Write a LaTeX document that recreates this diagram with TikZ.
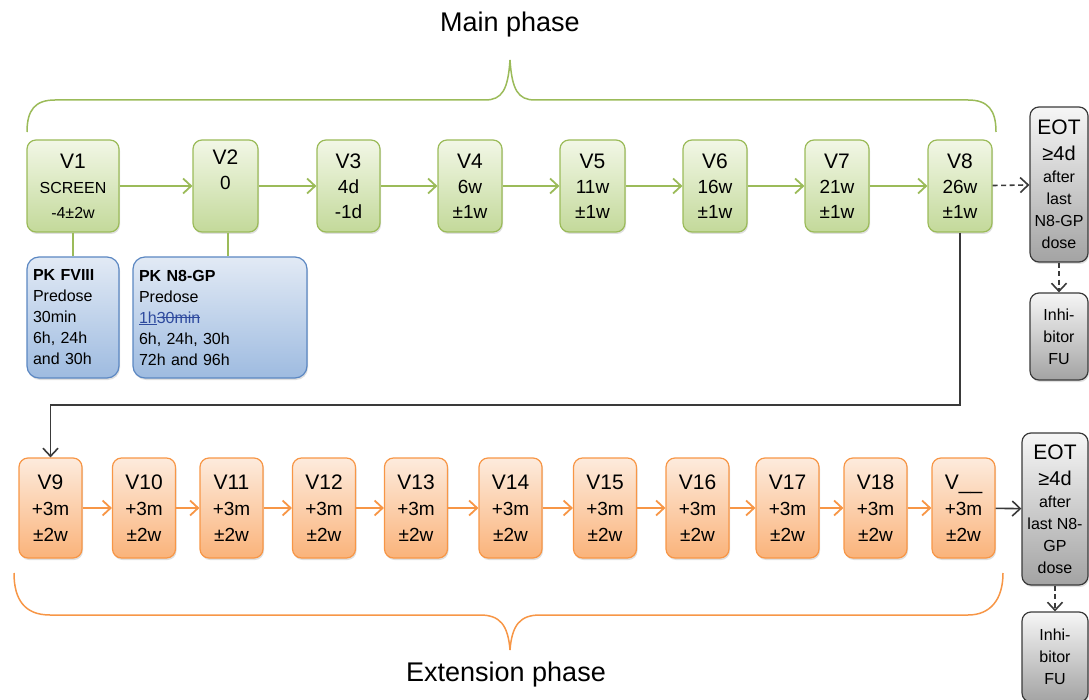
\documentclass[tikz,border=0pt]{standalone}
\usepackage{fontspec}
\setmainfont{Liberation Sans}
\usetikzlibrary{arrows.meta,shadows}

\definecolor{grline}{HTML}{9BBB59}
\definecolor{grtop}{HTML}{F2F7E6}
\definecolor{grbot}{HTML}{C3D99A}
\definecolor{orline}{HTML}{F79646}
\definecolor{ortop}{HTML}{FDEBDD}
\definecolor{orbot}{HTML}{FAB37A}
\definecolor{buline}{HTML}{5B87C2}
\definecolor{butop}{HTML}{E2EAF5}
\definecolor{bubot}{HTML}{9EBBE0}
\definecolor{gyline}{HTML}{3A3A3A}
\definecolor{gytop}{HTML}{F6F6F6}
\definecolor{gybot}{HTML}{A3A3A3}
\definecolor{trackblue}{HTML}{2E4A9E}

\newcommand{\vname}[1]{{\fontsize{21}{25}\selectfont #1}}
\newcommand{\strike}[1]{\setbox0\hbox{#1}\rlap{\rule[0.3em]{\wd0}{0.8pt}}\box0}

\begin{document}
\begin{tikzpicture}[x=1pt,y=-1pt,
        boxshadow/.style={drop shadow={opacity=0.25,shadow xshift=1pt,shadow yshift=-2pt}},
        visit/.style={boxshadow, draw=grline, line width=1.2pt, rounded corners=9pt, top color=grtop, bottom color=grbot, minimum height=92pt, align=center, inner sep=1pt, font=\fontsize{19}{25}\selectfont},
        extvisit/.style={boxshadow, draw=orline, line width=1.2pt, rounded corners=9pt, top color=ortop, bottom color=orbot, minimum width=63pt, minimum height=100pt, align=center, inner sep=1pt, font=\fontsize{19}{26}\selectfont},
        pkbox/.style={boxshadow, draw=buline, line width=1.2pt, rounded corners=12pt, top color=butop, bottom color=bubot, minimum height=121pt, align=left, inner xsep=6pt, font=\fontsize{16}{21}\selectfont},
        eotbox/.style={boxshadow, draw=gyline, line width=1.2pt, rounded corners=9pt, top color=gytop, bottom color=gybot, align=center, inner sep=1pt, font=\fontsize{16}{22}\selectfont},
        garrow/.style={draw=grline, line width=1.8pt, -{Straight Barb[length=8pt,width=15pt]}},
        oarrow/.style={draw=orline, line width=1.8pt, -{Straight Barb[length=8pt,width=15pt]}},
        karrow/.style={draw=gyline, line width=1.6pt, -{Straight Barb[length=8pt,width=15pt]}},
        dashes/.style={dash pattern=on 5pt off 3.5pt}]
        \useasboundingbox (0,0) rectangle (1089,700);
        % main phase
        \node (main) at (510,25) [font=\fontsize{27}{30}\selectfont] {Main phase};
        \draw[grline, line width=1.5pt] (27,132) .. controls (27,110) and (35,100) .. (55,100) -- (485,100)
                .. controls (502,100) and (508,90) .. (510,60) .. controls (512,90) and (518,100) .. (535,100)
                -- (968,100) .. controls (988,100) and (996,110) .. (996,132);
        \node (v1) at (73,186) [visit, minimum width=92pt] {\vname{V1}\\{\fontsize{16}{20}\selectfont SCREEN}\\{\fontsize{16}{20}\selectfont -4±2w}};
        \node (v2) at (225.5,186) [visit, minimum width=65pt] {\vname{V2}\\0\\\strut};
        \node (v3) at (348.5,186) [visit, minimum width=63pt] {\vname{V3}\\4d\\-1d};
        \node (v4) at (470,186) [visit, minimum width=64pt] {\vname{V4}\\6w\\±1w};
        \node (v5) at (592.5,186) [visit, minimum width=65pt] {\vname{V5}\\11w\\±1w};
        \node (v6) at (715,186) [visit, minimum width=64pt] {\vname{V6}\\16w\\±1w};
        \node (v7) at (837,186) [visit, minimum width=64pt] {\vname{V7}\\21w\\±1w};
        \node (v8) at (960,186) [visit, minimum width=64pt] {\vname{V8}\\26w\\±1w};
        \draw[garrow] (v1) -- (v2);
        \draw[garrow] (v2) -- (v3);
        \draw[garrow] (v3) -- (v4);
        \draw[garrow] (v4) -- (v5);
        \draw[garrow] (v5) -- (v6);
        \draw[garrow] (v6) -- (v7);
        \draw[garrow] (v7) -- (v8);
        % PK sampling
        \node (pkf) at (73,317.5) [pkbox, text width=80pt] {\textbf{PK FVIII}\\Predose\\30min\\6h, 24h\\and 30h};
        \node (pkn) at (220,317.5) [pkbox, text width=162pt] {\textbf{PK N8-GP}\\Predose\\{\color{trackblue}\underline{1h}\strike{30min}}\\6h, 24h, 30h\\72h and 96h};
        \draw[grline, line width=1.8pt] (v1) -- (pkf);
        \draw[grline, line width=1.8pt] ([xshift=2.5pt]v2.south) -- ([xshift=2.5pt]v2.south |- pkn.north);
        % end of main phase
        \node (eot1) at (1059,184.5) [eotbox, minimum width=58pt, minimum height=155pt] {\vname{EOT}\\[4pt]{\fontsize{20}{24}\selectfont ≥4d}\\after\\last\\N8-GP\\dose};
        \node (inh1) at (1059,336.5) [eotbox, minimum width=58pt, minimum height=87pt] {Inhi-\\bitor\\FU};
        \draw[karrow, dashes] (v8) -- (eot1);
        \draw[karrow, dashes] (eot1) -- (inh1);
        % extension phase
        \node (v9) at (50.5,508) [extvisit] {\vname{V9}\\+3m\\±2w};
        \node (v10) at (144,508) [extvisit] {\vname{V10}\\+3m\\±2w};
        \node (v11) at (231.5,508) [extvisit] {\vname{V11}\\+3m\\±2w};
        \node (v12) at (324,508) [extvisit] {\vname{V12}\\+3m\\±2w};
        \node (v13) at (416,508) [extvisit] {\vname{V13}\\+3m\\±2w};
        \node (v14) at (510.5,508) [extvisit] {\vname{V14}\\+3m\\±2w};
        \node (v15) at (605,508) [extvisit] {\vname{V15}\\+3m\\±2w};
        \node (v16) at (697.5,508) [extvisit] {\vname{V16}\\+3m\\±2w};
        \node (v17) at (787.5,508) [extvisit] {\vname{V17}\\+3m\\±2w};
        \node (v18) at (875.5,508) [extvisit] {\vname{V18}\\+3m\\±2w};
        \node (vx) at (963.5,508) [extvisit] {\vname{V\_\_}\\+3m\\±2w};
        \coordinate (turn) at (0,405);
        \draw[karrow] (v8.south) -- (v8.south |- turn) -| (v9.north);
        \draw[oarrow] (v9) -- (v10);
        \draw[oarrow] (v10) -- (v11);
        \draw[oarrow] (v11) -- (v12);
        \draw[oarrow] (v12) -- (v13);
        \draw[oarrow] (v13) -- (v14);
        \draw[oarrow] (v14) -- (v15);
        \draw[oarrow] (v15) -- (v16);
        \draw[oarrow] (v16) -- (v17);
        \draw[oarrow] (v17) -- (v18);
        \draw[oarrow] (v18) -- (vx);
        \node (eot2) at (1055,509) [eotbox, minimum width=66pt, minimum height=152pt] {\vname{EOT}\\[4pt]{\fontsize{20}{24}\selectfont ≥4d}\\after\\last N8-\\GP\\dose};
        \node (inh2) at (1055,657) [eotbox, minimum width=66pt, minimum height=90pt] {Inhi-\\bitor\\FU};
        \draw[karrow] (vx) -- (eot2);
        \draw[karrow, dashes] (eot2) -- (inh2);
        \draw[orline, line width=1.5pt] (14,573) .. controls (14,600) and (25,615) .. (50,615) -- (480,615)
                .. controls (500,615) and (508,625) .. (510,650) .. controls (512,625) and (520,615) .. (540,615)
                -- (968,615) .. controls (990,615) and (1003,600) .. (1003,573);
        \node (ext) at (506,675) [font=\fontsize{27}{30}\selectfont] {Extension phase};
\end{tikzpicture}
\end{document}
